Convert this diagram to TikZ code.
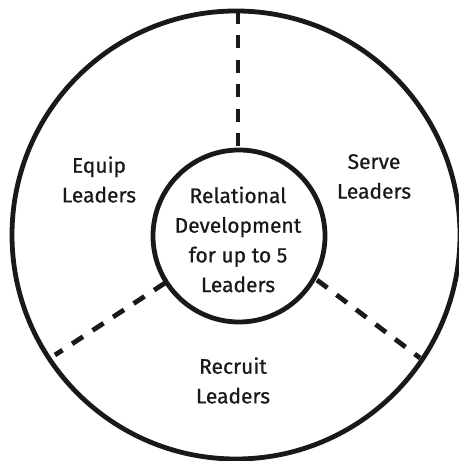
\documentclass[tikz,border=0pt]{standalone}
\usepackage{fontspec}
\setmainfont{Fira Sans}[UprightFeatures={FakeBold=0.7}]
\begin{document}
\begin{tikzpicture}[x=1bp,y=1bp,
  ring/.style={draw=black!90, line width=4.8bp, circle, inner sep=0pt, outer sep=0pt},
  divider/.style={draw=black!90, line width=4.8bp, dash pattern=on 13bp off 11.5bp},
  label/.style={inner sep=0pt, align=center, font=\fontsize{21bp}{29.7bp}\selectfont, text=black!90}]
\useasboundingbox (0,0) rectangle (459,461);
\node[ring, minimum size=448bp] (outer) at (236,226) {};
\node[ring, minimum size=172bp] (inner) at (239,225) {};
\coordinate (t1) at (238,313);
\coordinate (t2) at (238,450);
\coordinate (l1) at (165,178);
\coordinate (l2) at (55,106);
\coordinate (r1) at (317,181);
\coordinate (r2) at (420,103);
\draw[divider] (t2) -- (t1);
\draw[divider] (l1) -- (l2);
\draw[divider] (r1) -- (r2);
\node[label] (equip) at (99,281.5) {Equip\\Leaders};
\node[label] (serve) at (374,284.5) {Serve\\Leaders};
\node[label] (recruit) at (233,80.5) {Recruit\\Leaders};
\node[label] (center) at (238,221.5) {Relational\\Development\\for up to 5\\Leaders};
\end{tikzpicture}
\end{document}
